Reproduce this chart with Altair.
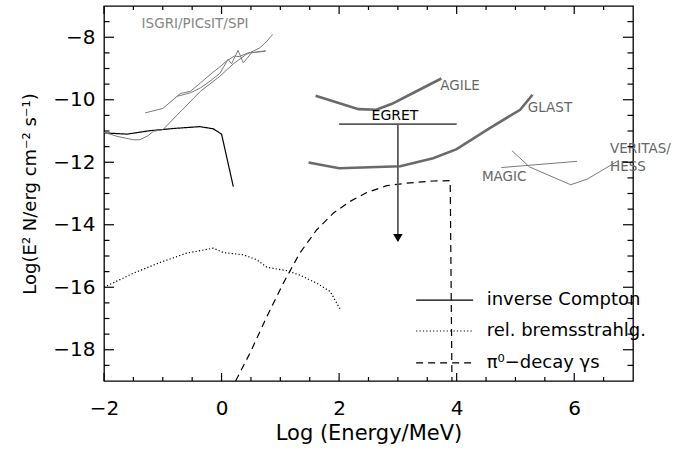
import altair as alt
import numpy as np
import pandas as pd

FONT = "DejaVu Sans"

# ---- model spectra (log E [MeV], log E^2 N [erg cm^-2 s^-1]) ----
series_names = ["inverse Compton", "rel. bremsstrahlg.", "π⁰−decay γs"]

ic_x = [-2.0, -1.61, -1.22, -0.82, -0.37, -0.14, 0.0, 0.20]
ic_y = [-11.06, -11.10, -10.99, -10.92, -10.86, -10.93, -11.10, -12.78]

brems_x = [-2.0, -1.50, -1.05, -0.60, -0.14, 0.03, 0.37, 0.60, 0.77, 1.11, 1.33, 1.62, 1.85, 2.02]
brems_y = [-16.0, -15.55, -15.21, -14.91, -14.75, -14.89, -14.96, -15.12, -15.36, -15.47,
           -15.61, -15.87, -16.14, -16.71]

pi0_x = [0.24, 0.48, 0.77, 1.05, 1.33, 1.62, 1.90, 2.18, 2.47, 2.81, 3.15, 3.60, 3.89, 3.92]
pi0_y = [-19.0, -18.12, -16.94, -15.87, -14.91, -14.16, -13.63, -13.26, -12.97, -12.75,
         -12.67, -12.60, -12.59, -19.0]

# ---- instrument sensitivities ----
agile_x = [1.60, 2.33, 2.63, 2.90, 3.20, 3.74]
agile_y = [-9.87, -10.30, -10.32, -10.13, -9.84, -9.32]

glast_x = [1.48, 2.00, 3.04, 3.60, 4.00, 4.57, 5.08, 5.29]
glast_y = [-12.01, -12.19, -12.13, -11.87, -11.58, -10.90, -10.32, -9.84]

magic_x = [4.76, 6.05]
magic_y = [-12.17, -11.97]

veritas_x = [4.94, 5.24, 5.94, 6.22, 6.76]
veritas_y = [-11.63, -12.15, -12.72, -12.54, -11.94]

isgri1_x = [-1.30, -1.00, -0.70, -0.53, -0.36, -0.16, -0.05, 0.10, 0.22, 0.30, 0.45, 0.75]
isgri1_y = [-10.42, -10.28, -9.80, -9.73, -9.46, -9.14, -8.98, -8.74, -8.60, -8.62, -8.50, -8.45]

isgri2_x = [-0.76, -0.53, -0.36, -0.20, -0.03, 0.11, 0.17, 0.28, 0.37, 0.51, 0.75]
isgri2_y = [-9.89, -9.78, -9.62, -9.41, -9.16, -8.71, -8.85, -8.42, -8.82, -8.50, -8.43]

isgri3_x = [-2.0, -1.78, -1.50, -1.39, -1.25, -1.16, -1.0, -0.36, -0.03, 0.20, 0.42, 0.65, 0.77, 0.87]
isgri3_y = [-11.04, -11.17, -11.28, -11.28, -11.15, -11.01, -10.96, -9.73, -9.25, -8.85,
            -8.55, -8.34, -8.13, -7.91]

# EGRET upper limit: energy band, flux level, limit arrow end
egret_band = [2.0, 4.0]
egret_level = -10.78
egret_energy = 3.0
egret_limit = -14.52

# annotation labels
label_text = ["ISGRI/PICsIT/SPI", "AGILE", "GLAST", "MAGIC", "VERITAS/", "HESS"]
label_x = [-1.36, 3.72, 5.21, 4.43, 6.61, 6.61]
label_y = [-7.59, -9.55, -10.25, -12.46, -11.57, -12.14]


def frame(pairs):
    rows = []
    for name, xs_, ys_ in pairs:
        for i, (a, b) in enumerate(zip(xs_, ys_)):
            rows.append({"name": name, "i": i, "x": a, "y": b})
    return pd.DataFrame(rows)


models = frame([(series_names[0], ic_x, ic_y),
                (series_names[1], brems_x, brems_y),
                (series_names[2], pi0_x, pi0_y)])
thick = frame([("AGILE", agile_x, agile_y), ("GLAST", glast_x, glast_y)])
thin = frame([("MAGIC", magic_x, magic_y), ("VERITAS", veritas_x, veritas_y),
              ("ISGRI1", isgri1_x, isgri1_y), ("ISGRI2", isgri2_x, isgri2_y),
              ("ISGRI3", isgri3_x, isgri3_y)])
labels = pd.DataFrame({"text": label_text, "x": label_x, "y": label_y})

W, H = 529, 375
xs = alt.Scale(domain=[-2, 7], nice=False, zero=False)
ys = alt.Scale(domain=[-19, -7], nice=False, zero=False)

x_axis = alt.Axis(values=[-2, 0, 2, 4, 6], title="Log (Energy/MeV)", grid=False, domain=False,
                  ticks=False, tickSize=0, labelPadding=17, labelFontSize=20, labelFont=FONT,
                  labelColor="black", labelFlush=False, labelOverlap=False,
                  titleFont=FONT, titleFontSize=21, titleFontWeight="normal",
                  titleColor="black", titleBaseline="alphabetic", titleY=58, titleX=W / 2)
y_axis = alt.Axis(values=[-18, -16, -14, -12, -10, -8], title="Log(E² N/erg cm⁻² s⁻¹)",
                  grid=False, domain=False, ticks=False, tickSize=0, labelPadding=9,
                  labelFontSize=20, labelFont=FONT, labelColor="black", labelFlush=False,
                  labelOverlap=False, titleFont=FONT,
                  titleFontSize=18, titleFontWeight="normal", titleColor="black",
                  titleBaseline="alphabetic", titleAngle=-90, titleX=-69, titleY=H / 2,
                  titleAlign="center")


def X(field="x"):
    return alt.X(f"{field}:Q", scale=xs, axis=x_axis, title="Log (Energy/MeV)")


def Y(field="y"):
    return alt.Y(f"{field}:Q", scale=ys, axis=y_axis, title="Log(E² N/erg cm⁻² s⁻¹)")


dash_scale = alt.Scale(domain=series_names, range=[[1, 0], [1.2, 2.2], [7, 5]])

model_layer = alt.Chart(models).mark_line(color="black", strokeWidth=1.2).encode(
    x=X(), y=Y(), detail="name:N", order="i:Q",
    strokeDash=alt.StrokeDash("name:N", scale=dash_scale, legend=None))

thick_layer = alt.Chart(thick).mark_line(color="#6a6a6a", strokeWidth=2.6).encode(
    x=X(), y=Y(), detail="name:N", order="i:Q")

thin_layer = alt.Chart(thin).mark_line(color="#7a7a7a", strokeWidth=1.0).encode(
    x=X(), y=Y(), detail="name:N", order="i:Q")

egret_df = pd.DataFrame({"x": [egret_band[0]], "x2": [egret_band[1]], "y": [egret_level],
                         "xe": [egret_energy], "ye": [egret_limit]})
egret_h = alt.Chart(egret_df).mark_rule(color="#5a5a5a", strokeWidth=1.8).encode(
    x=X(), x2="x2:Q", y=Y())
egret_v = alt.Chart(egret_df).mark_rule(color="#5a5a5a", strokeWidth=1.8).encode(
    x=X("xe"), y=Y(), y2="ye:Q")
egret_arrow = alt.Chart(egret_df).mark_point(shape="triangle-down", filled=True, color="black",
                                             size=90, opacity=1, yOffset=-3).encode(
    x=X("xe"), y=Y("ye"))
egret_text = alt.Chart(pd.DataFrame({"x": [2.95], "y": [-10.51], "t": ["EGRET"]})).mark_text(
    font=FONT, fontSize=14, color="black", align="center", baseline="middle").encode(
    x=X(), y=Y(), text="t:N")

label_layer = alt.Chart(labels).mark_text(font=FONT, fontSize=13.5,
                                          align="left", baseline="middle").encode(
    x=X(), y=Y(), text="text:N",
    color=alt.condition(alt.datum.text == "ISGRI/PICsIT/SPI", alt.value("#858585"),
                        alt.value("#666666")))

# key for the three model curves
legend_df = pd.DataFrame({"name": series_names, "x": [3.31] * 3, "x2": [4.28] * 3,
                          "y": [-16.41, -17.40, -18.42], "tx": [4.51] * 3})
legend_lines = alt.Chart(legend_df).mark_rule(color="black", strokeWidth=1.2).encode(
    x=X(), x2="x2:Q", y=Y(),
    strokeDash=alt.StrokeDash("name:N", scale=dash_scale, legend=None))
legend_text = alt.Chart(legend_df).mark_text(font=FONT, fontSize=18, color="black",
                                             align="left", baseline="middle").encode(
    x=X("tx"), y=Y(), text="name:N")

# inward tick marks on all four sides
x_major = pd.DataFrame({"x": [-2.0, 0.0, 2.0, 4.0, 6.0]})
x_minor = pd.DataFrame({"x": [v for v in np.arange(-1.5, 7.0, 0.5) if v % 2 != 0]})
y_major = pd.DataFrame({"y": [-18.0, -16.0, -14.0, -12.0, -10.0, -8.0]})
y_minor = pd.DataFrame({"y": [v for v in np.arange(-18.5, -7.0, 0.5) if v % 2 != 0]})

tick_style = dict(color="black", strokeWidth=1.2)
ticks = [
    alt.Chart(x_major).mark_rule(**tick_style).encode(x=X(), y=alt.value(H), y2=alt.value(H - 8)),
    alt.Chart(x_minor).mark_rule(**tick_style).encode(x=X(), y=alt.value(H), y2=alt.value(H - 4)),
    alt.Chart(x_major).mark_rule(**tick_style).encode(x=X(), y=alt.value(0), y2=alt.value(8)),
    alt.Chart(x_minor).mark_rule(**tick_style).encode(x=X(), y=alt.value(0), y2=alt.value(4)),
    alt.Chart(y_major).mark_rule(**tick_style).encode(y=Y(), x=alt.value(0), x2=alt.value(10)),
    alt.Chart(y_minor).mark_rule(**tick_style).encode(y=Y(), x=alt.value(0), x2=alt.value(5.5)),
    alt.Chart(y_major).mark_rule(**tick_style).encode(y=Y(), x=alt.value(W), x2=alt.value(W - 10)),
    alt.Chart(y_minor).mark_rule(**tick_style).encode(y=Y(), x=alt.value(W), x2=alt.value(W - 5.5)),
]

chart = alt.layer(
    model_layer, thick_layer, thin_layer, egret_h, egret_v, egret_arrow, egret_text,
    label_layer, legend_lines, legend_text, *ticks
).properties(
    width=W, height=H,
    padding={"left": 104, "top": 6, "right": 56, "bottom": 69},
    autosize=alt.AutoSizeParams(type="none"),
    background="white",
).configure_view(stroke="black", strokeWidth=1.3)

chart.save("out.html", embed_options={"renderer": "svg", "actions": False})
